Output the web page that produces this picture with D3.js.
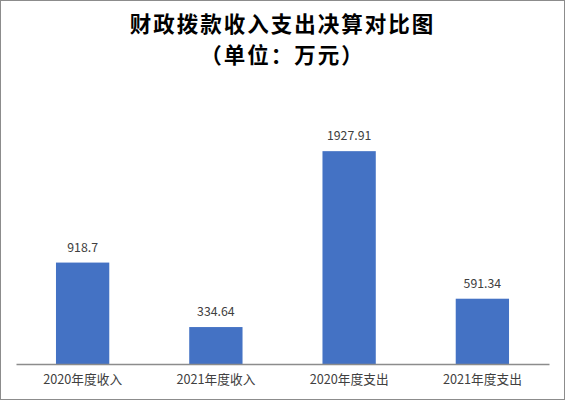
<!DOCTYPE html>
<html><head><meta charset="utf-8">
<script src="https://cdn.jsdelivr.net/npm/d3@7"></script>
<style>body{margin:0;background:#fff}</style>
</head><body>
<script>
const categories = ["2020年度收入","2021年度收入","2020年度支出","2021年度支出"];
const values = [918.7, 334.64, 1927.91, 591.34];
const valueLabels = ["918.7","334.64","1927.91","591.34"];
const titleLines = ["财政拨款收入支出决算对比图","（单位：万元）"];

const W=565,H=400;
const svg=d3.select("body").append("svg").attr("width",W).attr("height",H);
svg.append("rect").attr("x",0.5).attr("y",0.5).attr("width",W-1).attr("height",H-1)
  .attr("fill","#fff").attr("stroke","#8c8c8c").attr("stroke-width",1);

const font="'Noto Sans CJK SC','Noto Sans',sans-serif";
svg.selectAll("text.title").data(titleLines).enter().append("text")
  .attr("class","title").attr("x",282.5).attr("y",(d,i)=>31.5+i*31.3)
  .attr("text-anchor","middle").attr("font-family",font).attr("font-weight","bold")
  .attr("font-size",21.5).attr("letter-spacing",2).attr("fill","#000").text(d=>d);

const x=d3.scaleBand().domain(categories).range([16,549]).padding(0);
const y=d3.scaleLinear().domain([0,2500]).range([364,88]);
const bw=x.bandwidth()*0.4;

svg.selectAll("rect.bar").data(values).enter().append("rect").attr("class","bar")
  .attr("x",(d,i)=>x(categories[i])+x.bandwidth()/2-bw/2)
  .attr("y",d=>y(d)).attr("width",bw).attr("height",d=>y(0)-y(d))
  .attr("fill","#4472C4");

svg.selectAll("text.val").data(values).enter().append("text").attr("class","val")
  .attr("x",(d,i)=>x(categories[i])+x.bandwidth()/2)
  .attr("y",d=>y(d)-11).attr("text-anchor","middle")
  .attr("font-family",font).attr("font-size",12.3).attr("fill","#404040")
  .text((d,i)=>valueLabels[i]);

const ax=svg.append("g").attr("transform","translate(0,364)")
  .call(d3.axisBottom(x).tickSize(0).tickPadding(11));
ax.select(".domain").attr("stroke","#8c8c8c").attr("stroke-width",1.3);
ax.selectAll("text").attr("font-family",font).attr("font-size",12.7).attr("fill","#404040");
</script>
</body></html>
